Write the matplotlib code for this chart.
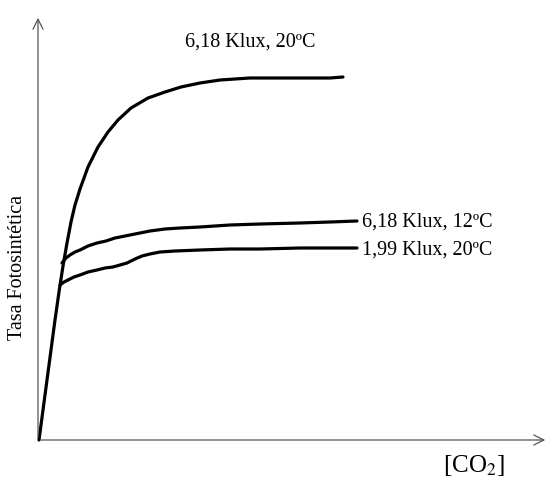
import matplotlib.pyplot as plt

plt.rcParams['font.family'] = ['Liberation Serif', 'DejaVu Serif']
plt.rcParams['mathtext.fontset'] = 'stix'

# datos (unidades arbitrarias, origen en el cruce de ejes)
co2_alta = [1, 5, 9, 13, 17, 21, 25, 29, 33, 37, 42, 50, 60, 70, 80, 93,
            110, 127, 143, 162, 182, 212, 242, 272, 292, 305]
tasa_alta = [0, 30, 60, 90, 120, 148, 174, 197, 218, 235, 251, 273, 293, 308, 320, 332,
             342, 348, 353, 357, 360, 362, 362, 362, 362, 363]

co2_12 = [24, 28, 32, 37, 42, 50, 59, 68, 77, 87, 97, 112, 127, 142, 162, 192, 222, 262, 292, 319]
tasa_12 = [177, 182, 185, 188, 190, 194, 197, 199, 202, 204, 206, 209, 211, 212, 213, 215, 216, 217, 218, 219]

co2_baja = [22, 26, 30, 36, 42, 50, 59, 67, 75, 82, 89, 97, 104, 112, 122, 137, 162, 192, 222, 262, 319]
tasa_baja = [155, 158, 160, 163, 165, 168, 170, 172, 173, 175, 177, 181, 184, 186, 188, 189, 190, 191, 191, 192, 192]

etiquetas = ["6,18 Klux, 20ºC", "6,18 Klux, 12ºC", "1,99 Klux, 20ºC"]

fig = plt.figure(figsize=(5.49, 4.82), dpi=100)
ax = fig.add_axes([0, 0, 1, 1])
ax.set_xlim(-38, 511)
ax.set_ylim(-42, 440)
ax.axis('off')

# ejes con flecha
ax.annotate('', xy=(510, 0), xytext=(0, 0),
            arrowprops=dict(arrowstyle='->', color='#555555', lw=0.9, mutation_scale=18))
ax.annotate('', xy=(0, 425), xytext=(0, 0),
            arrowprops=dict(arrowstyle='->', color='#555555', lw=0.9, mutation_scale=18))

for x, y in [(co2_alta, tasa_alta), (co2_12, tasa_12), (co2_baja, tasa_baja)]:
    ax.plot(x, y, color='black', lw=2.3, solid_capstyle='round', solid_joinstyle='round')

ax.text(212, 398, etiquetas[0], fontsize=14.5, ha='center', va='center')
ax.text(324, 218, etiquetas[1], fontsize=14.5, ha='left', va='center')
ax.text(324, 190, etiquetas[2], fontsize=14.5, ha='left', va='center')

ax.text(-20, 173, "Tasa Fotosintética", fontsize=14.5, rotation=90, ha='center', va='center')
ax.text(436, -26, r"[CO$_2$]", fontsize=18, ha='center', va='center')

fig.savefig('out.png', dpi=100)
